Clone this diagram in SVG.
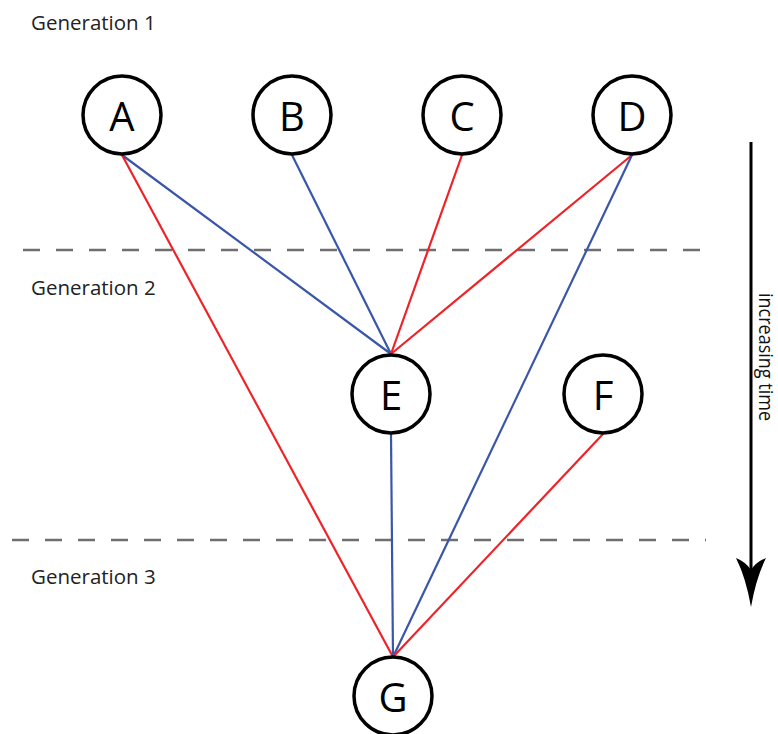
<svg xmlns="http://www.w3.org/2000/svg" width="778" height="734" viewBox="0 0 778 734">
  <defs>
    <style>
      .node circle { fill: #fff; stroke: #000; stroke-width: 3.5; }
      .node text { font-family: "Open Sans", "Liberation Sans", sans-serif; font-size: 40px; fill: #000; text-anchor: middle; dominant-baseline: central; }
      .gen { font-family: "Open Sans", "Liberation Sans", sans-serif; font-size: 20.5px; fill: #222; }
      .divider { stroke: #6f6f6f; stroke-width: 2.5; stroke-dasharray: 17 16; fill: none; }
      .red { stroke: #ee2227; stroke-width: 2.2; fill: none; }
      .blue { stroke: #3a56a8; stroke-width: 2.2; fill: none; }
    </style>
  </defs>

  <rect width="778" height="734" fill="#fff"/>

  <!-- generation dividers -->
  <g id="dividers">
    <line class="divider" x1="23" y1="250" x2="716" y2="250"/>
    <line class="divider" x1="12" y1="540" x2="706" y2="540"/>
  </g>

  <!-- generation labels -->
  <text class="gen" x="31" y="30">Generation 1</text>
  <text class="gen" x="31" y="295">Generation 2</text>
  <text class="gen" x="31" y="584">Generation 3</text>

  <!-- time axis -->
  <g id="time-axis">
    <line x1="751" y1="142" x2="751" y2="570" stroke="#000" stroke-width="3"/>
    <path d="M736 558 Q746 562 751 570 Q756 562 766 558 Q756 578 751 607 Q746 578 736 558 Z" fill="#000"/>
    <text x="0" y="0" transform="translate(759 293) rotate(90)" font-family="'Open Sans', 'Liberation Sans', sans-serif" font-size="20" fill="#111" textLength="128" lengthAdjust="spacingAndGlyphs">increasing time</text>
  </g>

  <!-- inheritance connectors -->
  <g id="connectors">
    <line class="blue" x1="122" y1="155" x2="391" y2="354"/>
    <line class="red" x1="122" y1="155" x2="393" y2="657"/>
    <line class="blue" x1="292" y1="155" x2="391" y2="354"/>
    <line class="red" x1="462" y1="155" x2="391" y2="354"/>
    <line class="red" x1="632" y1="155" x2="391" y2="354"/>
    <line class="blue" x1="632" y1="155" x2="393" y2="657"/>
    <line class="blue" x1="391" y1="434" x2="393" y2="657"/>
    <line class="red" x1="603" y1="434" x2="393" y2="657"/>
  </g>

  <!-- nodes -->
  <g id="node-A" class="node"><circle cx="122" cy="115" r="39"/><text x="122" y="115">A</text></g>
  <g id="node-B" class="node"><circle cx="292" cy="115" r="39"/><text x="292" y="115">B</text></g>
  <g id="node-C" class="node"><circle cx="462" cy="115" r="39"/><text x="462" y="115">C</text></g>
  <g id="node-D" class="node"><circle cx="632" cy="115" r="39"/><text x="632" y="115">D</text></g>
  <g id="node-E" class="node"><circle cx="391" cy="394" r="39"/><text x="391" y="394">E</text></g>
  <g id="node-F" class="node"><circle cx="603" cy="394" r="39"/><text x="603" y="394">F</text></g>
  <g id="node-G" class="node"><circle cx="393" cy="696" r="39"/><text x="393" y="696">G</text></g>
</svg>
